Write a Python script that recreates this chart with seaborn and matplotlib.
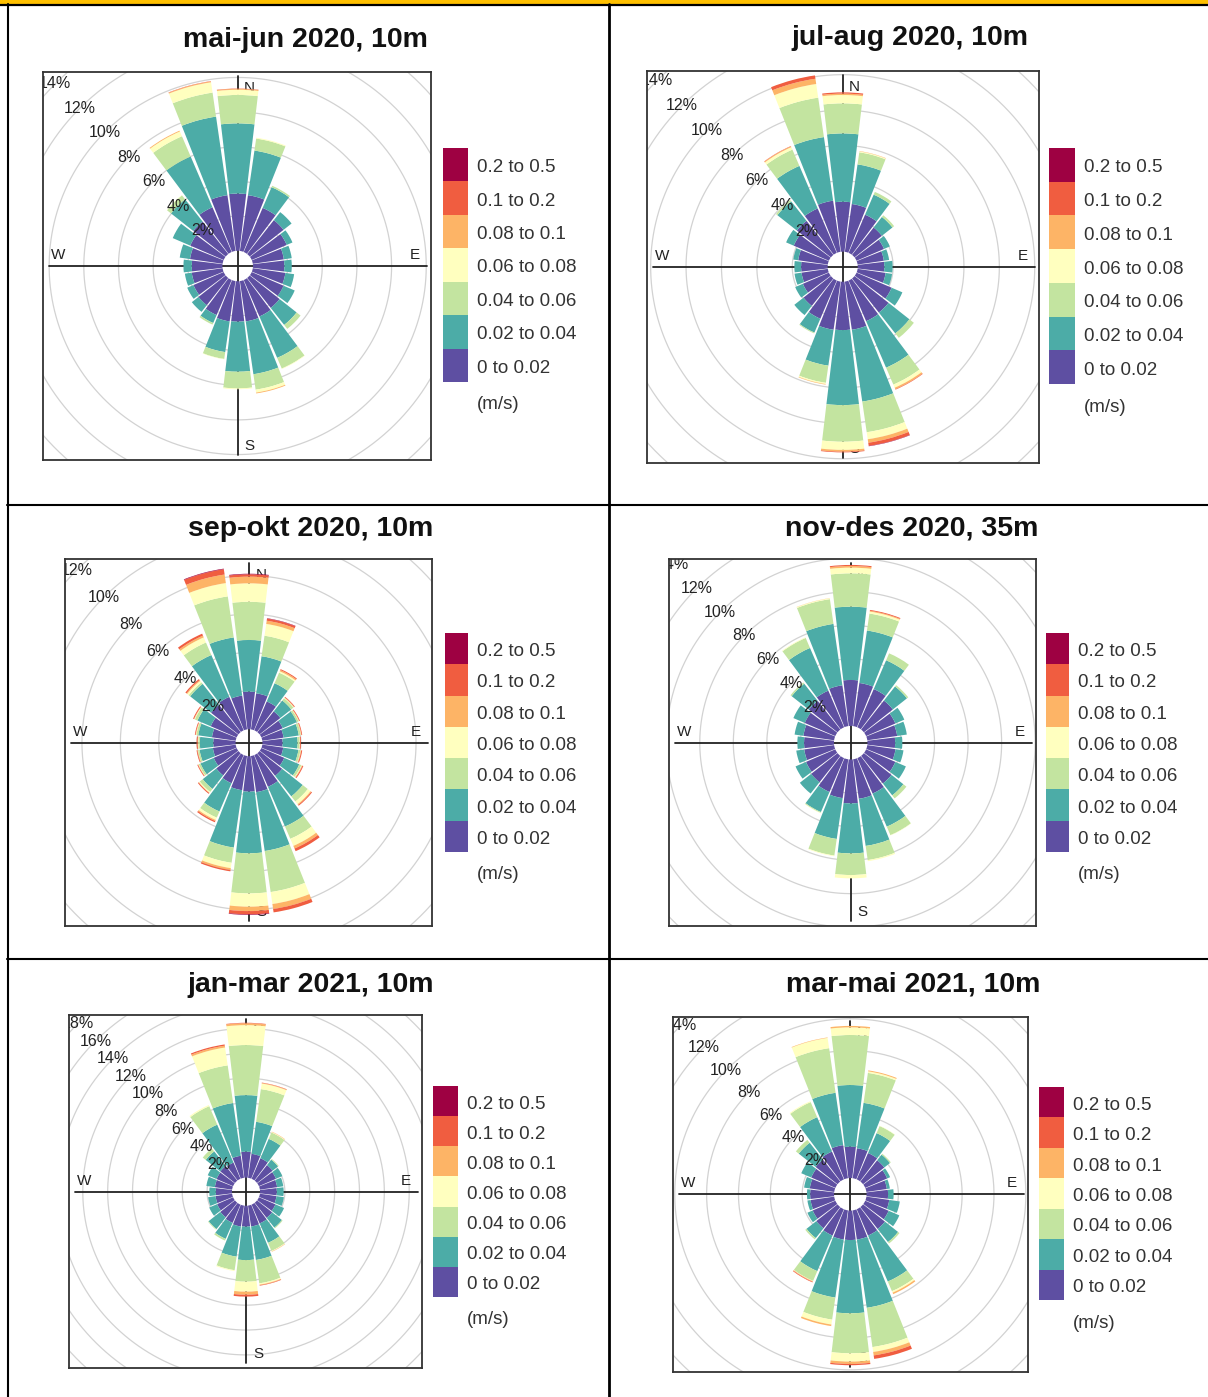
import numpy as np
import matplotlib
matplotlib.use("Agg")
import matplotlib.pyplot as plt
import seaborn as sns

sns.set_style("white")
plt.rcParams['font.family'] = ['Liberation Sans', 'DejaVu Sans']

# ---- data -----------------------------------------------------------------
directions = [0, 15, 30, 45, 60, 75, 90, 105, 120, 135, 150, 165,
              180, 195, 210, 225, 240, 255, 270, 285, 300, 315, 330, 345]
speed_bins = ['0 to 0.02', '0.02 to 0.04', '0.04 to 0.06', '0.06 to 0.08',
              '0.08 to 0.1', '0.1 to 0.2', '0.2 to 0.5']
bin_colors = sns.color_palette(['#5E4FA2', '#4CACA7', '#C3E4A0', '#FFFFBF',
                                '#FDB466', '#F05D40', '#9E0142'])

titles = ['mai-jun 2020, 10m', 'jul-aug 2020, 10m', 'sep-okt 2020, 10m',
          'nov-des 2020, 35m', 'jan-mar 2021, 10m', 'mar-mai 2021, 10m']

# frequency (%) per direction for each speed bin (m/s)
mj_s1 = [3.3, 3.25, 2.77, 2.49, 2.2, 1.81, 1.81, 1.9, 2.0, 2.2, 2.29, 2.35, 2.33, 2.35, 2.2, 2.0, 1.9, 1.8, 1.77, 1.9, 2.1, 2.39, 2.81, 3.25]
mj_s2 = [4.05, 2.6, 1.3, 0.59, 0.36, 0.46, 0.43, 0.51, 0.7, 1.25, 2.6, 3.08, 2.89, 1.79, 0.5, 0.49, 0.39, 0.4, 0.48, 0.6, 1.1, 1.63, 3.19, 4.58]
mj_s3 = [1.64, 0.7, 0.09, 0, 0, 0, 0, 0, 0, 0.29, 0.67, 0.9, 0.96, 0.4, 0.1, 0, 0, 0, 0, 0, 0, 0.29, 1.27, 1.4]
mj_s4 = [0.3, 0.05, 0, 0, 0, 0, 0, 0, 0, 0, 0.03, 0.17, 0.05, 0.02, 0, 0, 0, 0, 0, 0, 0, 0.02, 0.3, 0.6]
mj_s5 = [0.05, 0, 0, 0, 0, 0, 0, 0, 0, 0, 0, 0.05, 0, 0, 0, 0, 0, 0, 0, 0, 0, 0, 0.05, 0.05]
mj_s6 = [0.02, 0, 0, 0, 0, 0, 0, 0, 0, 0, 0, 0, 0, 0, 0, 0, 0, 0, 0, 0, 0, 0, 0, 0.02]
mj_s7 = [0, 0, 0, 0, 0, 0, 0, 0, 0, 0, 0, 0, 0, 0, 0, 0, 0, 0, 0, 0, 0, 0, 0, 0]

ja_s1 = [2.82, 2.73, 2.35, 1.97, 1.69, 1.5, 1.5, 1.6, 2.16, 2.45, 2.5, 2.75, 2.73, 2.75, 2.35, 1.97, 1.6, 1.5, 1.5, 1.69, 2.16, 2.45, 2.73, 2.92]
ja_s2 = [3.86, 2.26, 1.23, 0.76, 0.36, 0.3, 0.47, 0.37, 0.66, 1.5, 2.86, 4.1, 4.24, 2.05, 0.85, 0.66, 0.47, 0.4, 0.38, 0.28, 0.47, 1.4, 2.62, 3.63]
ja_s3 = [1.7, 0.69, 0.17, 0.12, 0, 0, 0, 0, 0, 0.32, 1.04, 1.75, 2.07, 0.98, 0.05, 0, 0, 0, 0, 0, 0, 0.1, 1.0, 2.25]
ja_s4 = [0.47, 0.05, 0, 0, 0, 0, 0, 0, 0, 0, 0.19, 0.4, 0.46, 0.07, 0, 0, 0, 0, 0, 0, 0, 0, 0.15, 0.78]
ja_s5 = [0.08, 0.02, 0, 0, 0, 0, 0, 0, 0, 0, 0.09, 0.2, 0.1, 0.03, 0, 0, 0, 0, 0, 0, 0, 0, 0.05, 0.3]
ja_s6 = [0.07, 0, 0, 0, 0, 0, 0, 0, 0, 0, 0.03, 0.18, 0.04, 0, 0, 0, 0, 0, 0, 0, 0, 0, 0.02, 0.19]
ja_s7 = [0, 0, 0, 0, 0, 0, 0, 0, 0, 0, 0, 0.02, 0, 0, 0, 0, 0, 0, 0, 0, 0, 0, 0, 0]

so_s1 = [1.96, 1.9, 1.64, 1.38, 1.21, 1.12, 1.05, 1.1, 1.3, 1.5, 1.8, 1.9, 1.85, 1.8, 1.6, 1.47, 1.3, 1.2, 1.16, 1.25, 1.47, 1.82, 1.9, 1.78]
so_s2 = [2.69, 1.95, 1.03, 0.72, 0.8, 0.8, 0.78, 0.8, 0.85, 1.36, 2.25, 3.1, 3.21, 3.02, 1.6, 0.9, 0.75, 0.7, 0.7, 0.72, 0.75, 1.38, 2.37, 3.06]
so_s3 = [1.99, 1.08, 0.6, 0.15, 0.1, 0.1, 0.1, 0.1, 0.12, 0.34, 0.7, 2.16, 2.09, 0.8, 0.35, 0.2, 0.1, 0.08, 0.08, 0.1, 0.15, 0.1, 0.71, 2.16]
so_s4 = [0.96, 0.62, 0.08, 0.03, 0.02, 0.02, 0.02, 0.03, 0.03, 0.18, 0.4, 0.63, 0.69, 0.28, 0.13, 0.05, 0.02, 0.02, 0.02, 0.02, 0.03, 0.1, 0.29, 0.7]
so_s5 = [0.35, 0.17, 0.07, 0.02, 0.02, 0.02, 0.02, 0.02, 0.03, 0.05, 0.15, 0.26, 0.23, 0.1, 0.06, 0.02, 0.02, 0.02, 0.02, 0.02, 0.02, 0.05, 0.1, 0.45]
so_s6 = [0.12, 0.11, 0.05, 0.04, 0.04, 0.04, 0.04, 0.05, 0.05, 0.05, 0.15, 0.18, 0.17, 0.07, 0.07, 0.05, 0.04, 0.04, 0.05, 0.04, 0.05, 0.07, 0.11, 0.28]
so_s7 = [0.03, 0.02, 0, 0, 0, 0, 0, 0, 0, 0, 0, 0, 0.03, 0, 0, 0, 0, 0, 0, 0, 0, 0, 0, 0.03]

nd_s1 = [2.74, 2.6, 2.48, 2.2, 1.9, 1.8, 1.65, 1.7, 1.9, 2.1, 2.3, 2.38, 2.62, 2.34, 2.2, 2.0, 1.9, 1.8, 1.78, 1.85, 1.98, 2.18, 2.38, 2.46]
nd_s2 = [4.37, 3.16, 1.87, 1.07, 0.58, 0.58, 0.43, 0.48, 0.68, 0.9, 2.15, 2.84, 2.98, 2.46, 1.3, 0.86, 0.68, 0.48, 0.4, 0.53, 0.74, 1.3, 2.77, 3.7]
nd_s3 = [1.99, 1.02, 0.45, 0.1, 0, 0, 0, 0, 0, 0.23, 0.55, 0.85, 1.29, 1.0, 0.05, 0, 0, 0, 0, 0, 0, 0.09, 0.65, 1.49]
nd_s4 = [0.34, 0.12, 0, 0, 0, 0, 0, 0, 0, 0, 0.02, 0.07, 0.2, 0.04, 0.02, 0, 0, 0, 0, 0, 0, 0, 0.04, 0.05]
nd_s5 = [0.1, 0.05, 0, 0, 0, 0, 0, 0, 0, 0, 0, 0, 0, 0, 0, 0, 0, 0, 0, 0, 0, 0, 0, 0.01]
nd_s6 = [0.06, 0.05, 0, 0, 0, 0, 0, 0, 0, 0, 0, 0, 0, 0, 0, 0, 0, 0, 0, 0, 0, 0, 0, 0]
nd_s7 = [0, 0, 0, 0, 0, 0, 0, 0, 0, 0, 0, 0, 0, 0, 0, 0, 0, 0, 0, 0, 0, 0, 0, 0]

jm_s1 = [2.09, 1.95, 1.8, 1.6, 1.5, 1.4, 1.35, 1.35, 1.45, 1.55, 1.65, 1.7, 1.68, 1.7, 1.6, 1.5, 1.4, 1.35, 1.3, 1.4, 1.45, 1.5, 1.42, 1.79]
jm_s2 = [4.55, 2.6, 1.7, 0.55, 0.55, 0.5, 0.55, 0.6, 0.75, 1.0, 1.7, 2.72, 2.69, 2.45, 1.4, 1.2, 0.69, 0.6, 0.52, 0.69, 0.77, 1.5, 3.32, 4.29]
jm_s3 = [4.03, 2.66, 0.55, 0.07, 0, 0, 0, 0, 0, 0.07, 0.7, 1.9, 1.74, 1.1, 0.15, 0.06, 0, 0, 0, 0, 0, 0.3, 1.62, 3.06]
jm_s4 = [1.6, 0.45, 0.05, 0, 0, 0, 0, 0, 0, 0, 0.05, 0.1, 0.8, 0.07, 0, 0, 0, 0, 0, 0, 0, 0, 0.1, 1.45]
jm_s5 = [0.15, 0.05, 0.03, 0, 0, 0, 0, 0, 0, 0, 0.03, 0.05, 0.25, 0, 0, 0, 0, 0, 0, 0, 0, 0, 0, 0.15]
jm_s6 = [0.04, 0.03, 0, 0, 0, 0, 0, 0, 0, 0, 0, 0.04, 0.15, 0, 0, 0, 0, 0, 0, 0, 0, 0, 0, 0.1]
jm_s7 = [0, 0, 0, 0, 0, 0, 0, 0, 0, 0, 0, 0, 0, 0, 0, 0, 0, 0, 0, 0, 0, 0, 0, 0]

mm_s1 = [1.97, 1.9, 1.8, 1.7, 1.5, 1.3, 1.35, 1.45, 1.6, 1.75, 1.8, 1.85, 1.85, 1.85, 1.8, 1.7, 1.55, 1.5, 1.5, 1.55, 1.65, 1.75, 1.9, 2.1]
mm_s2 = [3.87, 2.88, 1.36, 0.45, 0.2, 0.19, 0.35, 0.67, 0.73, 1.05, 3.14, 4.33, 4.6, 3.68, 2.43, 0.78, 0.36, 0.2, 0.2, 0.36, 0.68, 1.35, 2.35, 3.32]
mm_s3 = [3.14, 1.9, 0.48, 0.07, 0, 0, 0, 0, 0, 0.11, 0.66, 2.49, 2.51, 1.4, 0.67, 0.1, 0, 0, 0, 0, 0, 0.23, 1.03, 2.83]
mm_s4 = [0.48, 0.1, 0.02, 0, 0, 0, 0, 0, 0, 0, 0.1, 0.31, 0.52, 0.31, 0.02, 0, 0, 0, 0, 0, 0, 0, 0.06, 0.65]
mm_s5 = [0.09, 0.06, 0, 0, 0, 0, 0, 0, 0, 0, 0.1, 0.22, 0.15, 0.1, 0.04, 0, 0, 0, 0, 0, 0, 0, 0, 0.03]
mm_s6 = [0, 0, 0, 0, 0, 0, 0, 0, 0, 0, 0, 0.22, 0.08, 0, 0.04, 0, 0, 0, 0, 0, 0, 0, 0, 0]
mm_s7 = [0, 0, 0, 0, 0, 0, 0, 0, 0, 0, 0, 0, 0, 0, 0, 0, 0, 0, 0, 0, 0, 0, 0, 0]

panel_data = [
    [mj_s1, mj_s2, mj_s3, mj_s4, mj_s5, mj_s6, mj_s7],
    [ja_s1, ja_s2, ja_s3, ja_s4, ja_s5, ja_s6, ja_s7],
    [so_s1, so_s2, so_s3, so_s4, so_s5, so_s6, so_s7],
    [nd_s1, nd_s2, nd_s3, nd_s4, nd_s5, nd_s6, nd_s7],
    [jm_s1, jm_s2, jm_s3, jm_s4, jm_s5, jm_s6, jm_s7],
    [mm_s1, mm_s2, mm_s3, mm_s4, mm_s5, mm_s6, mm_s7],
]

# ---- layout (pixels) ------------------------------------------------------
layout = [
    dict(box=(43, 72, 431, 460), c=(237.7, 266), ppu=17.33, hole=0.88,
         leg=(443, 148, 25, 234), title=(305, 40)),
    dict(box=(647, 71, 1039, 463), c=(842.7, 266.7), ppu=17.7, hole=0.85,
         leg=(1049, 148, 26, 236), title=(910, 38)),
    dict(box=(65, 559, 432, 926), c=(249, 742.7), ppu=19.2, hole=0.70,
         leg=(445, 633, 23, 219), title=(311, 529)),
    dict(box=(669, 559, 1036, 926), c=(850.7, 742.7), ppu=16.77, hole=1.0,
         leg=(1046, 633, 23, 219), title=(912, 529)),
    dict(box=(69, 1015, 422, 1368), c=(246, 1191.7), ppu=12.43, hole=1.13,
         leg=(433, 1086, 25, 211), title=(311, 985)),
    dict(box=(673, 1017, 1028, 1372), c=(850.3, 1194.3), ppu=15.93, hole=1.02,
         leg=(1039, 1087, 25, 213), title=(913, 985)),
]

W, H = 1208, 1397
fig = plt.figure(figsize=(W / 100, H / 100), dpi=100)


def rect(x0, y0, x1, y1):
    return [x0 / W, 1 - y1 / H, (x1 - x0) / W, (y1 - y0) / H]


# table background
bg = fig.add_axes([0, 0, 1, 1], zorder=0)
bg.set_xlim(0, W)
bg.set_ylim(H, 0)
bg.axis('off')
bg.axhspan(0, 4, color='#FFC000', lw=0)
bg.plot([0, W], [4.5, 4.5], color='black', lw=1.6)
bg.plot([7.5, 7.5], [4, H], color='black', lw=1.5)
bg.plot([609, 609], [4, H], color='black', lw=2)
bg.plot([7, W], [504.5, 504.5], color='black', lw=1.5)
bg.plot([7, W], [958.5, 958.5], color='black', lw=1.5)

theta = np.deg2rad(directions)
bar_w = np.deg2rad(15) * 0.9
circle = np.linspace(0, 2 * np.pi, 400)

for title, data, lay in zip(titles, panel_data, layout):
    x0, y0, x1, y1 = lay['box']
    cx, cy = lay['c']
    ppu, hole = lay['ppu'], lay['hole']

    bg.text(*lay['title'], title, ha='center', va='center', fontsize=20.5,
            fontweight='bold', color='#111111')

    # square frame, also used as clip region
    frame = fig.add_axes(rect(x0, y0, x1, y1), zorder=3)
    frame.set_facecolor('none')
    frame.set_xlim((x0 - cx) / ppu, (x1 - cx) / ppu)
    frame.set_ylim((cy - y1) / ppu, (cy - y0) / ppu)
    frame.set_xticks([])
    frame.set_yticks([])
    for sp in frame.spines.values():
        sp.set_color('#333333')
        sp.set_linewidth(1.3)
    ft = frame.transData

    R = 0.75 * max(x1 - x0, y1 - y0)
    ax = fig.add_axes(rect(cx - R, cy - R, cx + R, cy + R), projection='polar', zorder=2)
    ax.set_theta_zero_location('N')
    ax.set_theta_direction(-1)
    ax.axis('off')
    rmax = R / ppu
    ax.set_ylim(0, rmax)

    # rings + percentage labels
    v = 2
    while hole + v < rmax:
        ln, = ax.plot(circle, np.full_like(circle, hole + v), color='#D2D2D2', lw=0.9, zorder=1)
        ln.set_clip_box(frame.bbox)
        t = ax.text(np.deg2rad(315), hole + v, f'{v}%', ha='center', va='center',
                    fontsize=11.5, color='#222222', zorder=6)
        t.set_clip_on(True)
        t.set_clip_box(frame.bbox)
        v += 2

    # cross lines and compass letters (under the bars)
    hx0, hx1 = (x0 + 6 - cx) / ppu, (x1 - 4 - cx) / ppu
    vy0, vy1 = (cy - (y1 - 5)) / ppu, (cy - (y0 + 4)) / ppu
    ax.plot([hx0, hx1], [0, 0], color='#222222', lw=1.3, transform=ft, zorder=2)
    ax.plot([0, 0], [vy0, vy1], color='#222222', lw=1.3, transform=ft, zorder=2)
    for lab, px, py in [('W', x0 + 15, cy - 11), ('E', x1 - 16, cy - 11),
                        ('N', cx + 12, y0 + 16), ('S', cx + 12, y1 - 14)]:
        ax.text((px - cx) / ppu, (cy - py) / ppu, lab, transform=ft, ha='center',
                va='center', fontsize=11, color='#222222', zorder=2.5)

    # stacked rose bars
    base = np.full(len(directions), hole)
    for vals, col in zip(data, bin_colors):
        vals = np.asarray(vals, dtype=float)
        ax.bar(theta, vals, width=bar_w, bottom=base, color=col, linewidth=0, zorder=3)
        base = base + vals

    # legend
    lx, ly, lw_, lh = lay['leg']
    lax = fig.add_axes(rect(lx, ly, lx + lw_, ly + lh), zorder=3)
    lax.barh(np.arange(len(speed_bins)), np.ones(len(speed_bins)), height=1.0,
             color=bin_colors, linewidth=0)
    lax.set_xlim(0, 1)
    lax.set_ylim(-0.5, len(speed_bins) - 0.5)
    lax.axis('off')
    step = lh / len(speed_bins)
    for i, lab in enumerate(speed_bins):
        lax.text(1 + 9 / lw_, i - 3 / step, lab, ha='left', va='center', fontsize=13.5,
                 color='#333333', clip_on=False)
    lax.text(1 + 9 / lw_, -0.5 - 23 / step, '(m/s)', ha='left', va='center',
             fontsize=13.5, color='#333333', clip_on=False)

fig.savefig('out.png', dpi=100, facecolor='white')
